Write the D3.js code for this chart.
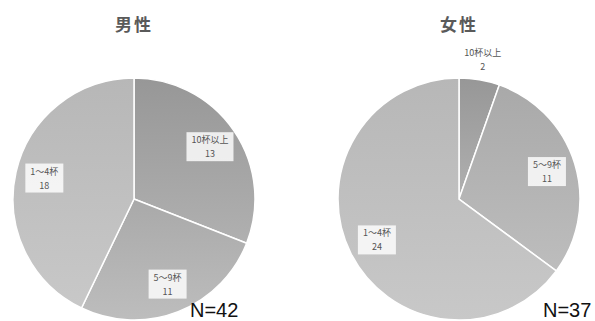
<!DOCTYPE html>
<html>
<head>
<meta charset="utf-8">
<script src="https://cdn.jsdelivr.net/npm/d3@7"></script>
<style>
  html, body { margin: 0; padding: 0; background: #fff; }
  svg { display: block; font-family: "Noto Sans CJK JP", "Noto Sans", sans-serif; }
</style>
</head>
<body>
<svg id="chart" width="595" height="321"></svg>
<script>
// Cups-per-week distribution, split by gender
const categories = ["10杯以上", "5～9杯", "1～4杯"];
const maleValues = [13, 11, 18];
const femaleValues = [2, 11, 24];
const panelTitles = ["男性", "女性"];
const totals = ["N=42", "N=37"];

// slice gradients: [top colour, bottom colour] per category
const sliceShades = [["#979797", "#b0b0b0"], ["#a9a9a9", "#bdbdbd"], ["#b7b7b7", "#c8c8c8"]];

const svg = d3.select("#chart");
const radius = 121;

const defs = svg.append("defs");
sliceShades.forEach((s, i) => {
  const g = defs.append("linearGradient")
    .attr("id", "shade" + i)
    .attr("x1", 0).attr("y1", 0).attr("x2", 0).attr("y2", 1);
  g.append("stop").attr("offset", "0%").attr("stop-color", s[0]);
  g.append("stop").attr("offset", "100%").attr("stop-color", s[1]);
});

const pie = d3.pie().sort(null).value(d => d.value);
const arc = d3.arc().innerRadius(0).outerRadius(radius);
const labelArc = d3.arc().innerRadius(radius * 0.76).outerRadius(radius * 0.76);
const outerLabelArc = d3.arc().innerRadius(radius + 20).outerRadius(radius + 20);

const panels = [
  { cx: 134, cy: 199, title: panelTitles[0], values: maleValues, total: totals[0], totalX: 190 },
  { cx: 459, cy: 199, title: panelTitles[1], values: femaleValues, total: totals[1], totalX: 543 }
];

panels.forEach(p => {
  svg.append("text")
    .attr("x", p.cx).attr("y", 31)
    .attr("text-anchor", "middle")
    .attr("font-size", 17).attr("font-weight", "bold")
    .attr("fill", "#5a5a5a")
    .attr("letter-spacing", 2)
    .text(p.title);

  const data = categories.map((c, i) => ({ cat: c, idx: i, value: p.values[i] }));
  const arcs = pie(data);
  const g = svg.append("g").attr("transform", `translate(${p.cx},${p.cy})`);

  g.selectAll("path.slice").data(arcs).enter().append("path")
    .attr("class", "slice")
    .attr("d", arc)
    .attr("fill", d => `url(#shade${d.data.idx})`)
    .attr("stroke", "#ffffff")
    .attr("stroke-width", 1.5);

  const labels = g.selectAll("g.lab").data(arcs).enter().append("g")
    .attr("class", "lab")
    .attr("transform", d => {
      const small = (d.endAngle - d.startAngle) < Math.PI / 6;
      const c = (small ? outerLabelArc : labelArc).centroid(d);
      return `translate(${c[0]},${c[1]})`;
    });

  labels.each(function(d) {
    const sel = d3.select(this);
    const rect = sel.append("rect");
    const t1 = sel.append("text")
      .attr("y", -4).attr("text-anchor", "middle")
      .attr("font-size", 9).attr("fill", "#555")
      .text(d.data.cat);
    const t2 = sel.append("text")
      .attr("y", 10).attr("text-anchor", "middle")
      .attr("font-size", 9).attr("fill", "#555")
      .text(d.data.value);
    const w = Math.max(t1.node().getBBox().width, t2.node().getBBox().width) + 10;
    rect.attr("x", -w / 2).attr("y", -15).attr("width", w).attr("height", 29)
      .attr("fill", "#ffffff").attr("fill-opacity", 0.82);
  });

  svg.append("text")
    .attr("x", p.totalX).attr("y", 317)
    .attr("font-family", "Arial, 'Liberation Sans', sans-serif")
    .attr("font-size", 20)
    .attr("fill", "#111")
    .text(p.total);
});
</script>
</body>
</html>
